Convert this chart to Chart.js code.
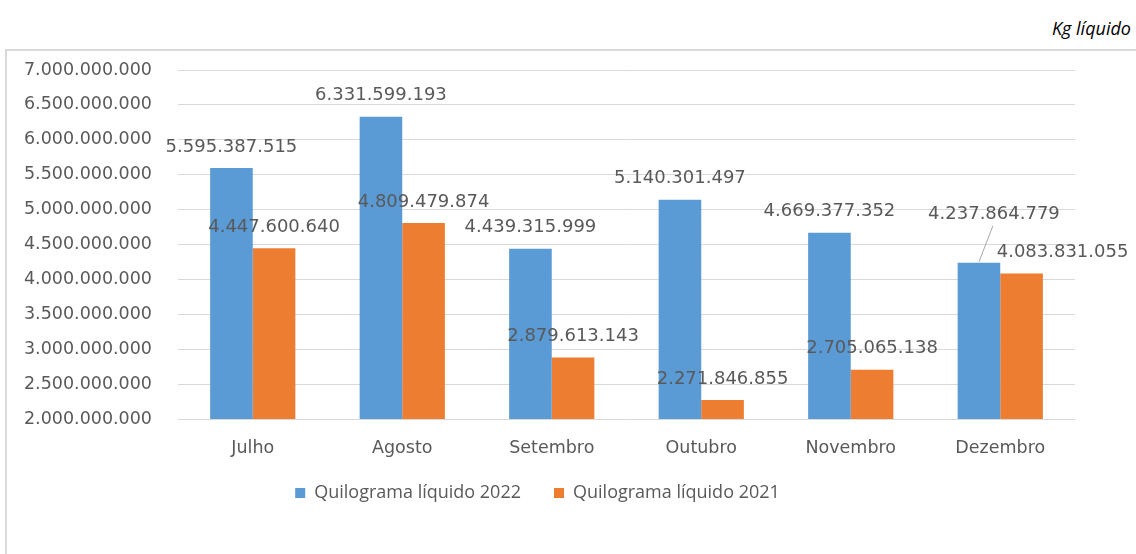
<!DOCTYPE html>
<html>
<head>
<meta charset="utf-8">
<script src="https://cdn.jsdelivr.net/npm/chart.js@4/dist/chart.umd.min.js"></script>
<style>
  html, body { margin: 0; padding: 0; background: #fff; }
  body { width: 1136px; height: 554px; position: relative; overflow: hidden; }
  #unit {
    position: absolute; right: 5px; top: 16px;
    font: italic 18px "Open Sans", sans-serif; color: #000;
  }
  #frame {
    position: absolute; left: 5px; top: 49px; width: 1140px; height: 520px;
    border-top: 2px solid #d9d9d9; border-left: 2px solid #d9d9d9;
  }
  #wrap { position: absolute; left: 0; top: 0; width: 1136px; height: 554px; }
</style>
</head>
<body>
<div id="unit">Kg líquido</div>
<div id="frame"></div>
<div id="wrap"><canvas id="chart"></canvas></div>
<script>
const months = ["Julho", "Agosto", "Setembro", "Outubro", "Novembro", "Dezembro"];
const kg2022 = [5595387515, 6331599193, 4439315999, 5140301497, 4669377352, 4237864779];
const kg2021 = [4447600640, 4809479874, 2879613143, 2271846855, 2705065138, 4083831055];
const seriesNames = ["Quilograma líquido 2022", "Quilograma líquido 2021"];
const yMin = 2000000000;
const yMax = 7000000000;
const yStep = 500000000;

const textGray = "#595959";

function fmt(v) {
  return String(Math.round(v)).replace(/\B(?=(\d{3})+(?!\d))/g, ".");
}

// label nudges (dataset-index) for the crowded Dezembro group
const labelShift = {
  "0-5": { dx: 15, dy: -27, leader: true },
  "1-5": { dx: 41, dy: 0 }
};

const valueLabels = {
  id: "valueLabels",
  afterDatasetsDraw(chart) {
    const ctx = chart.ctx;
    ctx.save();
    ctx.font = '18px "DejaVu Sans", sans-serif';
    ctx.fillStyle = textGray;
    ctx.textAlign = "center";
    ctx.textBaseline = "middle";
    chart.data.datasets.forEach((ds, di) => {
      const meta = chart.getDatasetMeta(di);
      meta.data.forEach((bar, i) => {
        const s = labelShift[di + "-" + i] || { dx: 0, dy: 0 };
        const x = bar.x + s.dx;
        const y = bar.y - 21 + s.dy;
        if (s.leader) {
          ctx.strokeStyle = "#a6a6a6";
          ctx.lineWidth = 1;
          ctx.beginPath();
          ctx.moveTo(x - 1, y + 11);
          ctx.lineTo(bar.x, bar.y - 1);
          ctx.stroke();
        }
        ctx.fillText(fmt(ds.data[i]), x, y);
      });
    });
    ctx.restore();
  }
};

// pull the legend up closer to the month labels
const legendLift = {
  id: "legendLift",
  afterLayout(chart) {
    const lg = chart.legend;
    if (lg) { lg.top -= 18; lg.bottom -= 18; }
  }
};

new Chart(document.getElementById("chart"), {
  type: "bar",
  data: {
    labels: months,
    datasets: [
      { label: seriesNames[0], data: kg2022, backgroundColor: "#5b9bd5" },
      { label: seriesNames[1], data: kg2021, backgroundColor: "#ed7d31" }
    ]
  },
  options: {
    responsive: true,
    maintainAspectRatio: false,
    animation: false,
    datasets: { bar: { barPercentage: 1, categoryPercentage: 0.57 } },
    layout: { padding: { left: 0, top: 70, right: 61, bottom: 24 } },
    plugins: {
      legend: {
        position: "bottom",
        labels: {
          boxWidth: 10,
          boxHeight: 10,
          padding: 33,
          color: textGray,
          font: { family: "Open Sans", size: 18 }
        }
      },
      tooltip: { enabled: false }
    },
    scales: {
      x: {
        grid: { display: false },
        border: { display: false },
        ticks: { color: textGray, padding: 11, font: { family: "DejaVu Sans", size: 17.5 } },
        afterFit(scale) { scale.height = 50; }
      },
      y: {
        min: yMin,
        max: yMax,
        grid: { color: "#d9d9d9", drawTicks: false },
        border: { display: false },
        ticks: {
          stepSize: yStep,
          color: textGray,
          padding: 26,
          font: { family: "DejaVu Sans", size: 17.5 },
          callback: v => fmt(v)
        },
        afterFit(scale) { scale.width = 178; }
      }
    }
  },
  plugins: [valueLabels, legendLift]
});
</script>
</body>
</html>
